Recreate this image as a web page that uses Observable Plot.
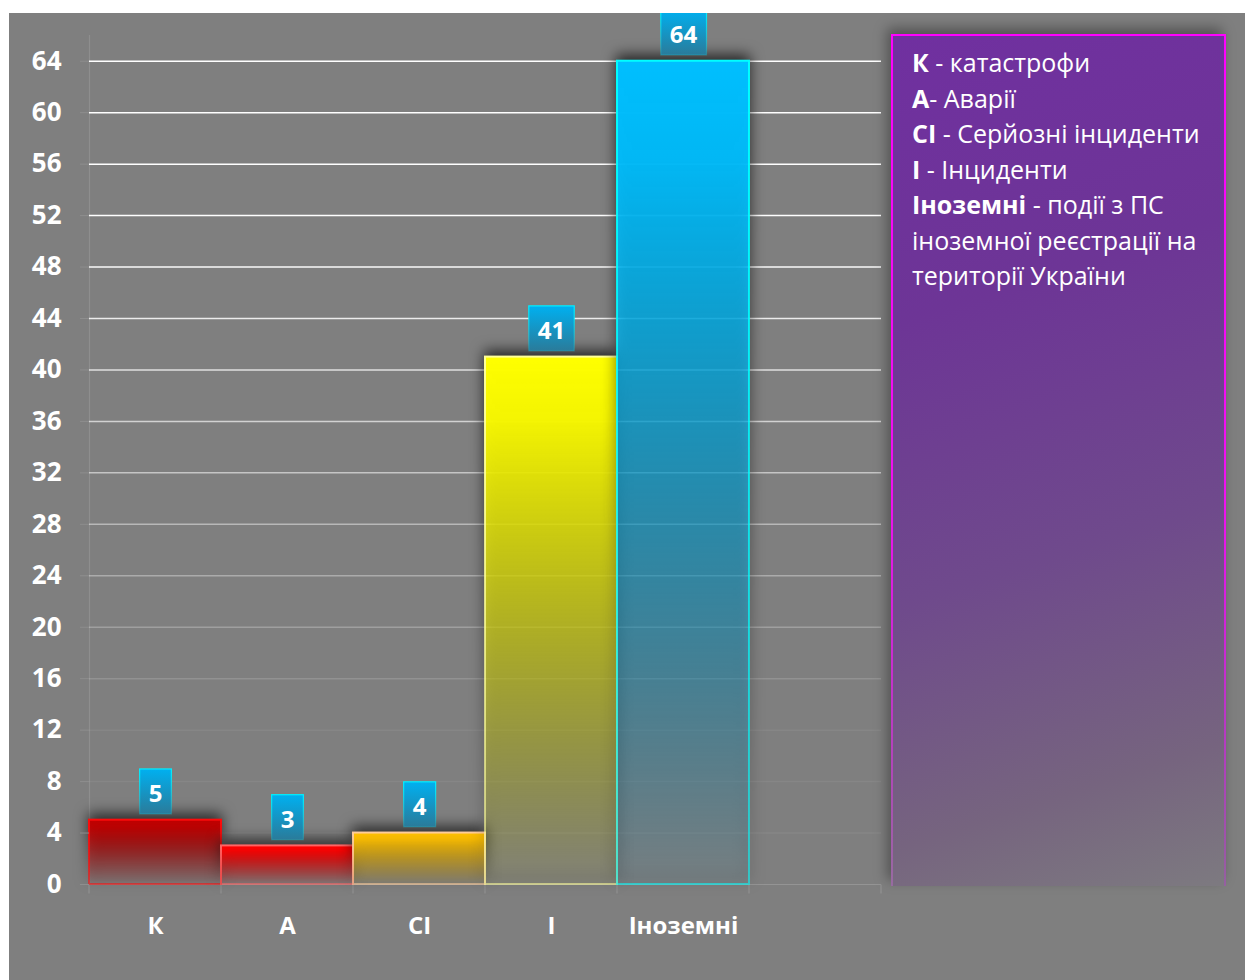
<!DOCTYPE html>
<html>
<head>
<meta charset="utf-8">
<script src="https://cdn.jsdelivr.net/npm/d3@7"></script>
<script src="https://cdn.jsdelivr.net/npm/@observablehq/plot@0.6"></script>
<style>
  html, body { margin: 0; padding: 0; background: #ffffff; }
  #wrap { position: relative; width: 1245px; height: 980px; overflow: hidden; font-family: "Open Sans", "Noto Sans", sans-serif; }
  #panel { position: absolute; left: 9px; top: 13px; width: 1236px; height: 967px; background: #7f7f7f; }
  #chart { position: absolute; left: 0; top: 0; clip-path: inset(13px 0 0 9px); }
  #chart svg { background: transparent; }
  g[aria-label="bar"] rect { filter: drop-shadow(0 -5px 7px rgba(0,0,0,0.7)); }
  #legend {
    position: absolute; left: 891px; top: 34px; width: 335px; height: 852px;
    box-sizing: border-box;
    border-style: solid; border-width: 2px 2px 0 2px;
    border-image: linear-gradient(to bottom, #ff00ff 0%, #f010f0 55%, rgba(200,80,220,0.35) 100%) 1;
    background: linear-gradient(162deg, #7030a0 0%, #6d3596 30%, #6f4a8c 60%, #76647f 85%, #7d7a80 100%);
    box-shadow: -4px -6px 12px rgba(0,0,0,0.35);
    color: #ffffff; font-size: 25px; line-height: 35.5px;
    padding: 9px 0 0 19px;
  }
  #legend b { font-weight: 700; }
</style>
</head>
<body>
<div id="wrap">
  <div id="panel"></div>
  <div id="chart"></div>
  <div id="legend">
    <div><b>К</b> - катастрофи</div>
    <div><b>А</b>- Аварії</div>
    <div><b>СІ</b> - Серйозні інциденти</div>
    <div><b>І</b> - Інциденти</div>
    <div><b>Іноземні</b> - події з ПС<br>іноземної реєстрації на<br>території України</div>
  </div>
</div>
<script>
// Event counts by category
const categories = ["К", "А", "СІ", "І", "Іноземні"];
const values = [5, 3, 4, 41, 64];
const yTicks = [0, 4, 8, 12, 16, 20, 24, 28, 32, 36, 40, 44, 48, 52, 56, 60, 64];

// Bar palette: top colour and edge colour per category
const topColors = ["#c00000", "#ff0000", "#ffc000", "#ffff00", "#00bfff"];
const edgeColors = ["#ff0a0a", "#ff6464", "#ffcc99", "#ffff99", "#00ffff"];

const rows = categories.map((cat, i) => ({cat, value: values[i]}));
// one empty slot at the right end of the category axis
const xDomain = [...categories, " "];

const gridOpacity = v => Math.max(0.06, Math.min(1, (v - 10) / 40));

const edgeTicks = (index, scales, vals, dims, context, next) => {
  const node = next(index, scales, vals, dims, context);
  const x = scales.x, y = scales.y;
  const dom = x.domain();
  const bw = x(dom[1]) - x(dom[0]);
  const edges = dom.map(d => x(d)).concat([x(dom[dom.length - 1]) + bw]);
  const y0 = y(0);
  const g = d3.select(node);
  g.selectAll("line.edge").data(edges).join("line")
    .attr("class", "edge")
    .attr("x1", d => d).attr("x2", d => d)
    .attr("y1", y0).attr("y2", y0 + 9)
    .attr("stroke", "#929292").attr("stroke-width", 1.2);
  return node;
};

const plot = Plot.plot({
  width: 1245,
  height: 980,
  marginLeft: 89,
  marginRight: 364,
  marginTop: 35,
  marginBottom: 96,
  style: {background: "transparent", color: "white", fontFamily: "'Open Sans', 'Noto Sans', sans-serif"},
  x: {domain: xDomain, padding: 0, label: null},
  y: {domain: [0, 66], label: null},
  marks: [
    Plot.frame({anchor: "left", stroke: "#8e8e8e", strokeWidth: 1.2}),
    Plot.ruleY(yTicks.filter(v => v > 0), {
      stroke: "white", strokeWidth: 1.5, strokeOpacity: gridOpacity
    }),
    Plot.ruleY([0], {stroke: "#949494", strokeWidth: 1.2, render: edgeTicks}),
    ...rows.map((r, i) => Plot.barY([r], {
      x: "cat", y: "value",
      fill: `url(#barFill${i})`,
      stroke: `url(#barEdge${i})`,
      strokeWidth: 2
    })),
    Plot.axisY(yTicks, {
      tickSize: 9, tickPadding: 19,
      stroke: "#8e8e8e", fill: "white",
      fontSize: 26, fontWeight: "bold", label: null
    }),
    Plot.axisX({
      tickSize: 0, tickPadding: 32,
      fill: "white", fontSize: 24, fontWeight: "bold", label: null
    }),
    Plot.text(rows, {
      x: "cat", y: "value", text: d => String(d.value),
      dy: -26, fill: "white", fontSize: 24, fontWeight: "bold"
    })
  ]
});

document.getElementById("chart").appendChild(plot);

// gradients for bars and value boxes
const svg = d3.select(plot);
const defs = svg.insert("defs", ":first-child");
topColors.forEach((c, i) => {
  const f = defs.append("linearGradient").attr("id", `barFill${i}`)
    .attr("x1", 0).attr("y1", 0).attr("x2", 0).attr("y2", 1);
  f.append("stop").attr("offset", 0).attr("stop-color", c).attr("stop-opacity", 1);
  f.append("stop").attr("offset", 0.12).attr("stop-color", c).attr("stop-opacity", 0.95);
  f.append("stop").attr("offset", 1).attr("stop-color", c).attr("stop-opacity", 0.04);
  const e = defs.append("linearGradient").attr("id", `barEdge${i}`)
    .attr("x1", 0).attr("y1", 0).attr("x2", 0).attr("y2", 1);
  e.append("stop").attr("offset", 0).attr("stop-color", edgeColors[i]).attr("stop-opacity", 1);
  e.append("stop").attr("offset", 1).attr("stop-color", edgeColors[i]).attr("stop-opacity", 0.55);
});
const bf = defs.append("linearGradient").attr("id", "boxFill")
  .attr("x1", 0).attr("y1", 0).attr("x2", 0).attr("y2", 1);
bf.append("stop").attr("offset", 0).attr("stop-color", "#00b0f0");
bf.append("stop").attr("offset", 1).attr("stop-color", "#2a7b9a");
const bs = defs.append("linearGradient").attr("id", "boxEdge")
  .attr("x1", 0).attr("y1", 0).attr("x2", 0).attr("y2", 1);
bs.append("stop").attr("offset", 0).attr("stop-color", "#00f0ff").attr("stop-opacity", 1);
bs.append("stop").attr("offset", 1).attr("stop-color", "#00f0ff").attr("stop-opacity", 0.2);

// boxes behind the value labels, sized from each label's text
plot.querySelectorAll('g[aria-label="text"] text').forEach(t => {
  const b = t.getBBox();
  const cx = b.x + b.width / 2;
  const cy = b.y + b.height / 2 + 1.6; // label anchor point
  const w = b.width + 18, h = 45;
  const rect = document.createElementNS("http://www.w3.org/2000/svg", "rect");
  rect.setAttribute("x", cx - w / 2);
  rect.setAttribute("y", cy - 25);
  rect.setAttribute("width", w);
  rect.setAttribute("height", h);
  rect.setAttribute("fill", "url(#boxFill)");
  rect.setAttribute("stroke", "url(#boxEdge)");
  rect.setAttribute("stroke-width", 1.2);
  const tr = t.getAttribute("transform");
  if (tr) rect.setAttribute("transform", tr);
  t.parentNode.insertBefore(rect, t);
});
</script>
</body>
</html>
